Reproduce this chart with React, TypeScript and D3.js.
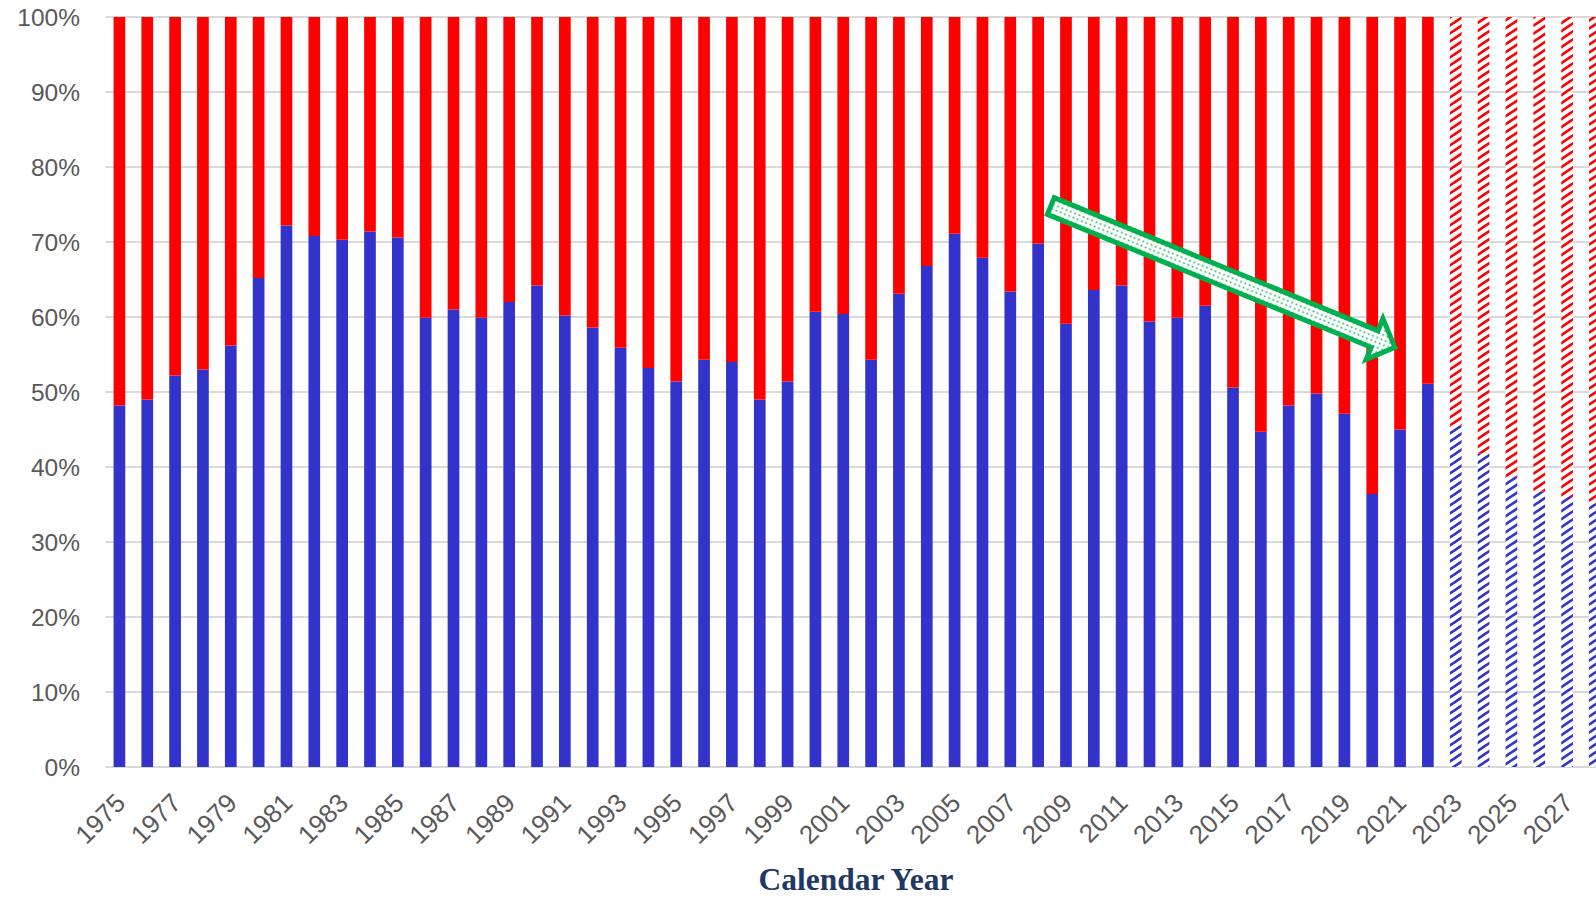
import React from "react";
import * as d3 from "d3";

const years: number[] = d3.range(1975, 2029);
// Share (%) of the blue series for each year; red is the remainder to 100%.
const blueShare: number[] = [
  48.2, 49.0, 52.2, 53.0, 56.2, 65.2, 72.2, 70.8, 70.3, 71.4,
  70.6, 59.9, 61.0, 59.9, 62.0, 64.2, 60.2, 58.6, 55.9, 53.2,
  51.4, 54.3, 54.0, 49.0, 51.4, 60.7, 60.4, 54.3, 63.1, 66.8,
  71.1, 67.9, 63.4, 69.8, 59.1, 63.6, 64.2, 59.4, 59.9, 61.5,
  50.6, 44.7, 48.2, 49.8, 47.1, 36.4, 45.0, 51.1, 45.5, 41.8,
  38.7, 36.7, 36.0, 35.1,
];
const firstProjectedYear = 2023;
const yTicks: number[] = d3.range(0, 101, 10);
const xLabelYears: number[] = years.filter((y) => (y - 1975) % 2 === 0);

const W = 1596;
const H = 898;
const plotLeft = 105.5;
const step = 27.84;
const plotRight = plotLeft + step * years.length;
const plotTop = 17;
const plotBottom = 767;

const BLUE = "#3333CC";
const RED = "#FF0000";
const GREEN = "#00B050";

export default function App() {
  const x = d3
    .scaleBand<number>()
    .domain(years)
    .range([plotLeft, plotRight])
    .paddingInner(0.58)
    .paddingOuter(0.29);
  const y = d3.scaleLinear().domain([0, 100]).range([plotBottom, plotTop]);

  const rows = years.map((yr, i) => ({
    year: yr,
    blue: blueShare[i],
    red: 100 - blueShare[i],
    projected: yr >= firstProjectedYear,
  }));

  const hatch = (id: string, color: string) => (
    <pattern id={id} patternUnits="userSpaceOnUse" width={12} height={8}>
      <rect width={12} height={8} fill="#fff" />
      <path
        d="M-12,8 L12,-8 M0,8 L12,0 M0,16 L24,0"
        stroke={color}
        strokeWidth={2.7}
      />
    </pattern>
  );

  return (
    <svg
      width={W}
      height={H}
      style={{ position: "absolute", left: 0, top: 0, background: "#fff" }}
      fontFamily="'Liberation Sans', Arial, sans-serif"
    >
      <defs>
        {hatch("hatchBlue", BLUE)}
        {hatch("hatchRed", RED)}
        <pattern id="dots" patternUnits="userSpaceOnUse" width={4.6} height={4.6}>
          <rect width={4.6} height={4.6} fill="#fff" />
          <rect x={1.5} y={1.5} width={1.6} height={1.6} fill={GREEN} />
        </pattern>
      </defs>

      {/* gridlines */}
      {yTicks.map((t) => (
        <line
          key={t}
          x1={plotLeft}
          x2={plotRight}
          y1={y(t)}
          y2={y(t)}
          stroke="#d9d9d9"
          strokeWidth={2}
        />
      ))}

      {/* bars */}
      {rows.map((r) => {
        const bx = x(r.year)!;
        const bw = x.bandwidth();
        return (
          <g key={r.year}>
            <rect
              x={bx}
              width={bw}
              y={y(r.blue)}
              height={y(0) - y(r.blue)}
              fill={r.projected ? "url(#hatchBlue)" : BLUE}
            />
            <rect
              x={bx}
              width={bw}
              y={y(100)}
              height={y(r.blue) - y(100)}
              fill={r.projected ? "url(#hatchRed)" : RED}
            />
          </g>
        );
      })}

      {/* y labels */}
      {yTicks.map((t) => (
        <text
          key={t}
          x={80}
          y={y(t)}
          dy="0.36em"
          textAnchor="end"
          fontSize={24.5}
          fill="#595959"
        >
          {t}%
        </text>
      ))}

      {/* x labels */}
      {xLabelYears.map((yr) => {
        const cx = x(yr)! + x.bandwidth() / 2;
        return (
          <text
            key={yr}
            transform={`translate(${cx + 1},${plotBottom + 31}) rotate(-45)`}
            textAnchor="end"
            dy="0.36em"
            fontSize={26}
            fill="#595959"
          >
            {yr}
          </text>
        );
      })}

      {/* axis title */}
      <text
        x={856}
        y={890}
        textAnchor="middle"
        fontFamily="'Liberation Serif', 'Times New Roman', serif"
        fontWeight="bold"
        fontSize={31.5}
        fill="#203864"
      >
        Calendar Year
      </text>

      {/* trend arrow annotation */}
      <g transform="translate(1050.8,206) rotate(22.33)">
        <path
          d="M0,-9 L350,-9 L350,-22 L372,0 L350,22 L350,9 L0,9 Z"
          fill="url(#dots)"
          stroke={GREEN}
          strokeWidth={5}
          strokeLinejoin="miter"
        />
      </g>
    </svg>
  );
}
